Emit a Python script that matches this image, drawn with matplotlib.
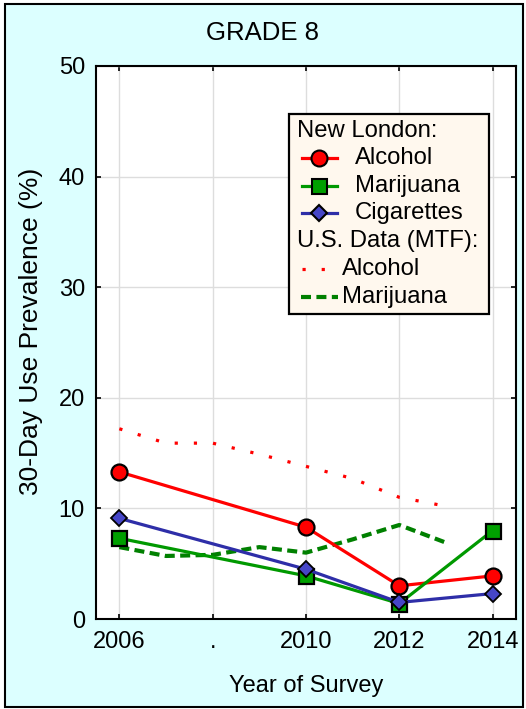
import matplotlib
matplotlib.use("Agg")
import numpy as np
from matplotlib import pyplot as plt
from matplotlib.lines import Line2D
from matplotlib.patches import Rectangle

plt.rcParams['font.family'] = ['Liberation Sans', 'DejaVu Sans']

# New London survey years and prevalences (%)
nl_years = [2006, 2010, 2012, 2014]
nl_alcohol = [13.3, 8.3, 3.0, 3.9]
nl_marijuana = [7.3, 3.9, 1.4, 8.0]
nl_cigarettes = [9.1, 4.5, 1.5, 2.3]

# U.S. data (MTF), yearly
mtf_years = [2006, 2007, 2008, 2009, 2010, 2011, 2012, 2013]
mtf_alcohol = [17.2, 15.9, 15.9, 14.9, 13.8, 12.7, 11.0, 10.2]
mtf_marijuana = [6.5, 5.7, 5.8, 6.5, 6.0, 7.2, 8.5, 6.9]

x_ticks = [2006, 2008, 2010, 2012, 2014]
x_labels = ['2006', '.', '2010', '2012', '2014']
y_ticks = [0, 10, 20, 30, 40, 50]

RED = '#FF0000'
GREEN = '#009900'
GREEN_MARK = '#00A000'
BLUE = '#2E2EA8'
BLUE_MARK = '#4646C8'
MTF_GREEN = '#008000'

W, H = 526, 709
fig = plt.figure(figsize=(W / 100, H / 100), dpi=100, facecolor='white')
fig.patches.append(Rectangle((4.5 / W, 2.5 / H), 518.5 / W, 702.5 / H,
                             transform=fig.transFigure, facecolor='#DCFFFF',
                             edgecolor='black', linewidth=1.5, zorder=-10))

ax = fig.add_axes([96 / W, 1 - 619 / H, 420 / W, 553 / H])
ax.set_zorder(1)
ax.set_facecolor('white')

ax.plot(mtf_years, mtf_alcohol, color=RED, lw=2.3, dashes=(1, 5), zorder=3)
ax.plot(mtf_years, mtf_marijuana, color=MTF_GREEN, lw=3.0, dashes=(2.4, 1.3), zorder=3)

ax.plot(nl_years, nl_alcohol, color=RED, lw=2.3, marker='o', ms=11.5,
        mfc=RED, mec='black', mew=1.6, zorder=4)
ax.plot(nl_years, nl_marijuana, color=GREEN, lw=2.3, marker='s', ms=10.8,
        mfc=GREEN_MARK, mec='black', mew=1.6, zorder=4)
ax.plot(nl_years, nl_cigarettes, color=BLUE, lw=2.3, marker='D', ms=8.5,
        mfc=BLUE_MARK, mec='black', mew=1.3, zorder=5)

ax.set_xlim(2005.5, 2014.5)
ax.set_ylim(0, 50)
ax.set_xticks(x_ticks)
ax.set_xticklabels(x_labels)
ax.set_yticks(y_ticks)
ax.grid(True, color='#DDDDDD', lw=1, zorder=0)
ax.set_axisbelow(True)
ax.tick_params(direction='in', length=3.5, width=1.2, labelsize=17,
               top=True, right=True)
ax.tick_params(axis='x', pad=9)
ax.tick_params(axis='y', pad=8)
for s in ax.spines.values():
    s.set_linewidth(1.5)

fig.text(0.5, 1 - 33.5 / H, 'GRADE 8', ha='center', va='center', fontsize=18.5)
fig.text(306 / W, 1 - 686 / H, 'Year of Survey', ha='center', va='center', fontsize=17)
fig.text(31 / W, 1 - 331 / H, '30-Day Use Prevalence (%)', ha='center', va='center',
         rotation=90, fontsize=19)

# legend drawn by hand (headers sit flush left)
def axp(px, py):
    return (px - 96) / 420, (619 - py) / 553

x0, y0 = axp(289, 314)
x1, y1 = axp(489, 114)
ax.add_patch(Rectangle((x0, y0), x1 - x0, y1 - y0, transform=ax.transAxes,
                       facecolor='#FFF8EE', edgecolor='black', lw=1.6, zorder=6))

def leg_text(px, py, s):
    tx, ty = axp(px, py)
    ax.text(tx, ty, s, transform=ax.transAxes, ha='left', va='center',
            fontsize=17.2, zorder=7)

def leg_line(pxa, pxb, py, **kw):
    xa, ya = axp(pxa, py)
    xb, _ = axp(pxb, py)
    ax.add_line(Line2D([xa, xb], [ya, ya], transform=ax.transAxes, zorder=7, **kw))

leg_text(297, 131, 'New London:')
for py, label, col, mfc, mk, ms in [
        (158, 'Alcohol', RED, RED, 'o', 11.5),
        (186, 'Marijuana', GREEN, GREEN_MARK, 's', 10.8),
        (213, 'Cigarettes', BLUE, BLUE_MARK, 'D', 8.5)]:
    leg_line(302, 337, py, lw=2.3, color=col)
    mx, my = axp(319, py)
    ax.add_line(Line2D([mx], [my], transform=ax.transAxes, lw=0, marker=mk, ms=ms,
                       mfc=mfc, mec='black', mew=1.5, zorder=8))
    leg_text(355, py, label)
leg_text(297, 241, 'U.S. Data (MTF):')
leg_line(302, 328, 269, color=RED, lw=2.3, dashes=(1, 5))
leg_text(342, 269, 'Alcohol')
leg_line(301, 338, 297, color=MTF_GREEN, lw=3.0, dashes=(2.4, 1.3))
leg_text(342, 297, 'Marijuana')

fig.savefig('out.png', dpi=100, facecolor=fig.get_facecolor())
